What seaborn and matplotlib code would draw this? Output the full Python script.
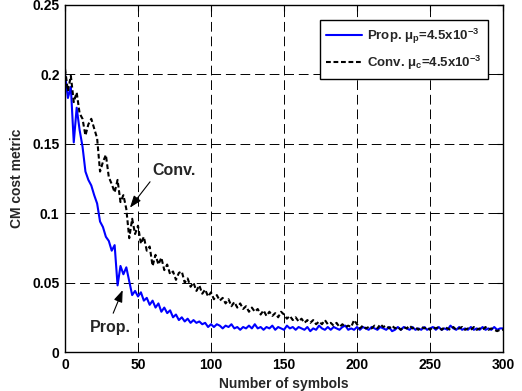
import numpy as np
import pandas as pd
import matplotlib
matplotlib.use("Agg")
import matplotlib.pyplot as plt
import seaborn as sns

# ---- data ----
symbols = list(range(0, 301, 2))

prop_cm = [
    0.200, 0.183, 0.191, 0.151, 0.176, 0.160, 0.148, 0.130, 0.124, 0.120,  # 0-18
    0.113, 0.107, 0.094, 0.090, 0.083, 0.080, 0.073, 0.077, 0.048, 0.062,  # 20-38
    0.056, 0.061, 0.051, 0.041, 0.044, 0.040, 0.043, 0.037, 0.039, 0.034,  # 40-58
    0.037, 0.032, 0.035, 0.029, 0.032, 0.028, 0.030, 0.025, 0.027, 0.023,  # 60-78
    0.025, 0.022, 0.024, 0.021, 0.023, 0.021, 0.022, 0.020, 0.021, 0.018,  # 80-98
    0.020, 0.018, 0.020, 0.019, 0.017, 0.019, 0.018, 0.020, 0.017, 0.018,  # 100-118
    0.016, 0.018, 0.017, 0.019, 0.017, 0.020, 0.017, 0.018, 0.016, 0.018,  # 120-138
    0.017, 0.019, 0.016, 0.018, 0.017, 0.016, 0.019, 0.017, 0.018, 0.016,  # 140-158
    0.018, 0.017, 0.016, 0.018, 0.015, 0.017, 0.016, 0.019, 0.017, 0.016,  # 160-178
    0.018, 0.016, 0.018, 0.017, 0.016, 0.018, 0.019, 0.016, 0.017, 0.016,  # 180-198
    0.018, 0.016, 0.018, 0.017, 0.016, 0.018, 0.017, 0.016, 0.018, 0.017,  # 200-218
    0.016, 0.018, 0.015, 0.016, 0.018, 0.016, 0.018, 0.017, 0.016, 0.018,  # 220-238
    0.016, 0.017, 0.016, 0.018, 0.016, 0.017, 0.018, 0.016, 0.018, 0.016,  # 240-258
    0.017, 0.016, 0.019, 0.017, 0.016, 0.018, 0.016, 0.017, 0.016, 0.018,  # 260-278
    0.016, 0.017, 0.016, 0.018, 0.016, 0.017, 0.016, 0.018, 0.016, 0.017,  # 280-298
    0.017,                                                                # 300
]

conv_cm = [
    0.204, 0.188, 0.199, 0.180, 0.187, 0.172, 0.168, 0.156, 0.164, 0.168,  # 0-18
    0.161, 0.154, 0.130, 0.137, 0.142, 0.126, 0.121, 0.115, 0.124, 0.108,  # 20-38
    0.113, 0.103, 0.082, 0.096, 0.085, 0.091, 0.078, 0.083, 0.073, 0.076,  # 40-58
    0.062, 0.070, 0.063, 0.068, 0.059, 0.063, 0.056, 0.058, 0.052, 0.057,  # 60-78
    0.058, 0.050, 0.053, 0.047, 0.050, 0.044, 0.048, 0.042, 0.045, 0.040,  # 80-98
    0.043, 0.038, 0.041, 0.037, 0.039, 0.035, 0.038, 0.033, 0.036, 0.032,  # 100-118
    0.035, 0.031, 0.033, 0.029, 0.032, 0.029, 0.031, 0.027, 0.030, 0.026,  # 120-138
    0.029, 0.026, 0.028, 0.025, 0.029, 0.027, 0.024, 0.026, 0.023, 0.025,  # 140-158
    0.022, 0.024, 0.021, 0.023, 0.021, 0.023, 0.020, 0.022, 0.020, 0.023,  # 160-178
    0.020, 0.021, 0.019, 0.021, 0.018, 0.020, 0.018, 0.019, 0.018, 0.023,  # 180-198
    0.020, 0.017, 0.019, 0.017, 0.018, 0.017, 0.019, 0.017, 0.020, 0.018,  # 200-218
    0.019, 0.017, 0.019, 0.017, 0.018, 0.016, 0.018, 0.017, 0.019, 0.017,  # 220-238
    0.018, 0.016, 0.018, 0.017, 0.018, 0.016, 0.018, 0.017, 0.018, 0.016,  # 240-258
    0.018, 0.017, 0.016, 0.018, 0.016, 0.017, 0.018, 0.016, 0.017, 0.016,  # 260-278
    0.018, 0.016, 0.017, 0.016, 0.018, 0.016, 0.017, 0.016, 0.015, 0.016,  # 280-298
    0.016,                                                                # 300
]

x_ticks = [0, 50, 100, 150, 200, 250, 300]
y_ticks = [0, 0.05, 0.10, 0.15, 0.20, 0.25]
y_tick_labels = ["0", "0.05", "0.1", "0.15", "0.2", "0.25"]

prop_label = r"Prop. $\mu_p$=4.5x10$^{-3}$"
conv_label = r"Conv. $\mu_c$=4.5x10$^{-3}$"

# ---- style ----
sns.set_theme(style="white")
plt.rcParams["font.family"] = ["Liberation Sans", "DejaVu Sans"]
plt.rcParams["font.weight"] = "bold"
plt.rcParams["mathtext.fontset"] = "custom"
plt.rcParams["mathtext.rm"] = "Liberation Sans:bold"
plt.rcParams["mathtext.it"] = "Liberation Sans:bold"
plt.rcParams["mathtext.bf"] = "Liberation Sans:bold"
plt.rcParams["mathtext.sf"] = "Liberation Sans:bold"

df = pd.DataFrame({"symbols": symbols, "prop": prop_cm, "conv": conv_cm})

fig = plt.figure(figsize=(5.22, 3.91), dpi=100)
ax = fig.add_axes([65 / 522, 1 - 352 / 391, (503 - 65) / 522, (352 - 5) / 391])

sns.lineplot(data=df, x="symbols", y="prop", ax=ax, color="#0000ff",
             linewidth=1.5, label=prop_label)
sns.lineplot(data=df, x="symbols", y="conv", ax=ax, color="black",
             linewidth=1.5, linestyle=(0, (2.3, 1.3)), label=conv_label)

ax.set_xlim(0, 300)
ax.set_ylim(0, 0.25)
ax.set_xticks(x_ticks)
ax.set_xticklabels([str(t) for t in x_ticks])
ax.set_yticks(y_ticks)
ax.set_yticklabels(y_tick_labels)

ax.grid(True, color="black", linestyle=(0, (10, 5)), linewidth=0.7)
for s in ax.spines.values():
    s.set_visible(True)
    s.set_color("black")
    s.set_linewidth(1.0)
ax.tick_params(direction="in", length=4, width=0.8, top=True, right=True,
               labelsize=10, pad=4, colors="black")
for lab in ax.get_xticklabels() + ax.get_yticklabels():
    lab.set_fontweight("bold")

ax.set_xlabel("Number of symbols", fontsize=10, fontweight="bold", labelpad=4)
ax.set_ylabel("CM cost metric", fontsize=10, fontweight="bold", labelpad=6)

leg = ax.legend(loc="upper right", bbox_to_anchor=((488 - 65) / 438, (352 - 20) / 347),
                borderaxespad=0, fontsize=9.5, frameon=True, fancybox=False,
                handlelength=2.7, handletextpad=0.35, labelspacing=0.6,
                borderpad=0.5)
leg.get_frame().set_edgecolor("black")
leg.get_frame().set_linewidth(1.0)
leg.get_frame().set_alpha(1)
for t in leg.get_texts():
    t.set_fontweight("bold")

arrow = dict(arrowstyle="-|>,head_length=0.6,head_width=0.22", color="black",
             lw=0.8, mutation_scale=12, shrinkA=0, shrinkB=0)
ax.annotate("Conv.", xy=(44.5, 0.104), xytext=(60, 0.125),
            ha="left", va="bottom", fontsize=11.5, fontweight="bold",
            arrowprops=dict(arrow, relpos=(0, 0)))
ax.annotate("Prop.", xy=(39.5, 0.0446), xytext=(31, 0.012),
            ha="center", va="bottom", fontsize=11.5, fontweight="bold",
            arrowprops=dict(arrow, relpos=(0.5, 1), shrinkA=3))

fig.savefig("out.png", dpi=100)
